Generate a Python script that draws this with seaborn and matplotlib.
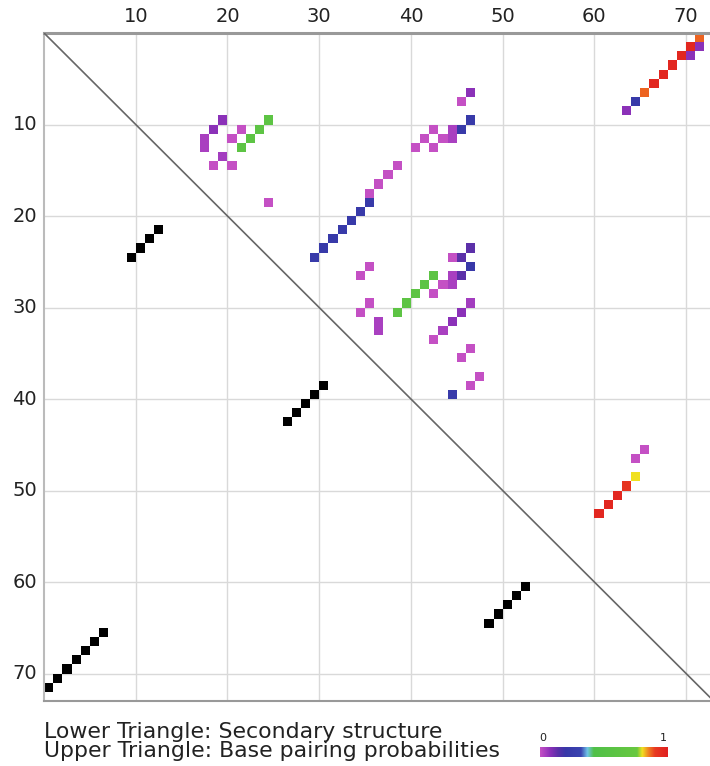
import numpy as np
import pandas as pd
import matplotlib
matplotlib.use("Agg")
import matplotlib.pyplot as plt
from matplotlib.colors import LinearSegmentedColormap, ListedColormap
import seaborn as sns

# ---------------- data ----------------
seq_len = 72
# secondary structure (lower triangle): pairs (i, j)
struct_i = [1, 2, 3, 4, 5, 6, 7, 10, 11, 12, 13, 27, 28, 29, 30, 31, 49, 50, 51, 52, 53]
struct_j = [72, 71, 70, 69, 68, 67, 66, 25, 24, 23, 22, 43, 42, 41, 40, 39, 65, 64, 63, 62, 61]

# base pairing probabilities (upper triangle)
prob_i = [10, 11, 12, 13, 14, 15, 15, 12, 11, 10, 11, 12, 13, 19,
          7, 8, 10, 11, 11, 12, 12, 11, 12, 13, 13, 15, 16, 17, 18, 19,
          20, 21, 22, 23, 24, 25,
          24, 25, 25, 26, 27, 27, 28, 28, 27, 28, 29, 30, 31, 29,
          26, 27, 30, 31, 32, 33, 30, 31, 32, 33, 34, 35, 36, 38, 39, 40,
          1, 2, 2, 3, 3, 4, 5, 6, 7, 8, 9,
          46, 47, 49, 50, 51, 52, 53]
prob_j = [20, 19, 18, 18, 20, 19, 21, 21, 22, 25, 24, 23, 22, 25,
          47, 46, 47, 46, 45, 45, 44, 43, 42, 41, 43, 39, 38, 37, 36, 36,
          35, 34, 33, 32, 31, 30,
          47, 45, 46, 47, 46, 45, 45, 44, 43, 42, 41, 40, 39, 43,
          36, 35, 36, 35, 37, 37, 47, 46, 45, 44, 43, 47, 46, 48, 47, 45,
          72, 71, 72, 71, 70, 69, 68, 67, 66, 65, 64,
          66, 65, 65, 64, 63, 62, 61]
prob_p = [0.08, 0.08, 0.04, 0.04, 0.05, 0.0, 0.0, 0.0, 0.0, 0.6, 0.6, 0.6, 0.6, 0.0,
          0.08, 0.0, 0.22, 0.22, 0.04, 0.04, 0.0, 0.0, 0.0, 0.0, 0.0, 0.0, 0.0, 0.0, 0.0, 0.22,
          0.22, 0.22, 0.22, 0.22, 0.22, 0.22,
          0.14, 0.0, 0.14, 0.2, 0.14, 0.04, 0.04, 0.0, 0.6, 0.6, 0.6, 0.6, 0.6, 0.0,
          0.0, 0.0, 0.0, 0.0, 0.04, 0.04, 0.05, 0.08, 0.08, 0.04, 0.0, 0.0, 0.0, 0.0, 0.0, 0.22,
          0.87, 0.97, 0.08, 0.08, 0.97, 0.97, 0.97, 0.97, 0.87, 0.22, 0.08,
          0.0, 0.0, 0.8, 0.92, 0.97, 0.97, 0.97]

tick_vals = [10, 20, 30, 40, 50, 60, 70]
caption_lines = ["Lower Triangle: Secondary structure",
                 "Upper Triangle: Base pairing probabilities"]

# ---------------- matrices ----------------
upper = np.full((seq_len, seq_len), np.nan)
for i, j, p in zip(prob_i, prob_j, prob_p):
    upper[i - 1, j - 1] = p
lower = np.full((seq_len, seq_len), np.nan)
for i, j in zip(struct_i, struct_j):
    lower[j - 1, i - 1] = 1.0
idx = list(range(1, seq_len + 1))
upper_df = pd.DataFrame(upper, index=idx, columns=idx)
lower_df = pd.DataFrame(lower, index=idx, columns=idx)

stops = [(0.00, "#c450c4"), (0.04, "#a840c0"), (0.08, "#8a30b8"), (0.14, "#5a30a8"),
         (0.20, "#3838a8"), (0.32, "#3a44b0"), (0.37, "#70c4e8"), (0.42, "#50c048"),
         (0.76, "#68c840"), (0.80, "#f0e020"), (0.85, "#f08020"), (0.90, "#e83a20"),
         (1.00, "#e02020")]
cmap = LinearSegmentedColormap.from_list("dp", stops)

# ---------------- figure ----------------
sns.set_style("white")
plt.rcParams["font.family"] = ["DejaVu Sans"]
fig = plt.figure(figsize=(7.10, 7.66), dpi=100)
ax = fig.add_axes([44 / 710, 1 - 701 / 766, 666 / 710, 668 / 766])

sns.heatmap(upper_df, ax=ax, cmap=cmap, vmin=0, vmax=1, cbar=False, linewidths=0)
sns.heatmap(lower_df, ax=ax, cmap=ListedColormap(["black"]), vmin=0, vmax=1,
            cbar=False, linewidths=0)

ax.set_xlim(0, 72.6)
ax.set_ylim(73, 0)
ax.plot([0, 73], [0, 73], color="#666666", lw=1.2, zorder=3)

ax.set_xticks(tick_vals)
ax.set_yticks(tick_vals)
ax.set_xticklabels([str(t) for t in tick_vals], rotation=0)
ax.set_yticklabels([str(t) for t in tick_vals], rotation=0)
ax.xaxis.tick_top()
ax.tick_params(axis="both", length=0, labelsize=14, colors="#222222", pad=5)
ax.set_xlabel("")
ax.set_ylabel("")
ax.set_axisbelow(True)
ax.grid(True, color="#d9d9d9", lw=1.0)
for g in ax.get_xgridlines() + ax.get_ygridlines():
    g.set_zorder(0)
for c in ax.collections:
    c.set_zorder(2)
for side in ["top", "left", "bottom"]:
    ax.spines[side].set_visible(True)
    ax.spines[side].set_color("#999999")
    ax.spines[side].set_linewidth(1.5)
ax.spines["right"].set_visible(False)
ax.spines["top"].set_linewidth(2.2)
ax.spines["left"].set_color("#bbbbbb")

fig.text(44 / 710, 1 - 732 / 766, caption_lines[0], fontsize=15.8, color="#222222",
         va="center", ha="left")
fig.text(44 / 710, 1 - 751 / 766, caption_lines[1], fontsize=15.8, color="#222222",
         va="center", ha="left")

cax = fig.add_axes([540 / 710, 1 - 757 / 766, 128 / 710, 10 / 766])
grad = np.linspace(0, 1, 256)[None, :]
cax.imshow(grad, aspect="auto", cmap=cmap, extent=[0, 1, 0, 1])
cax.set_xticks([])
cax.set_yticks([])
for s in cax.spines.values():
    s.set_visible(False)
fig.text(543 / 710, 1 - 738 / 766, "0", fontsize=8, ha="center", va="center", color="#222222")
fig.text(663 / 710, 1 - 738 / 766, "1", fontsize=8, ha="center", va="center", color="#222222")

fig.savefig("out.png", dpi=100)
